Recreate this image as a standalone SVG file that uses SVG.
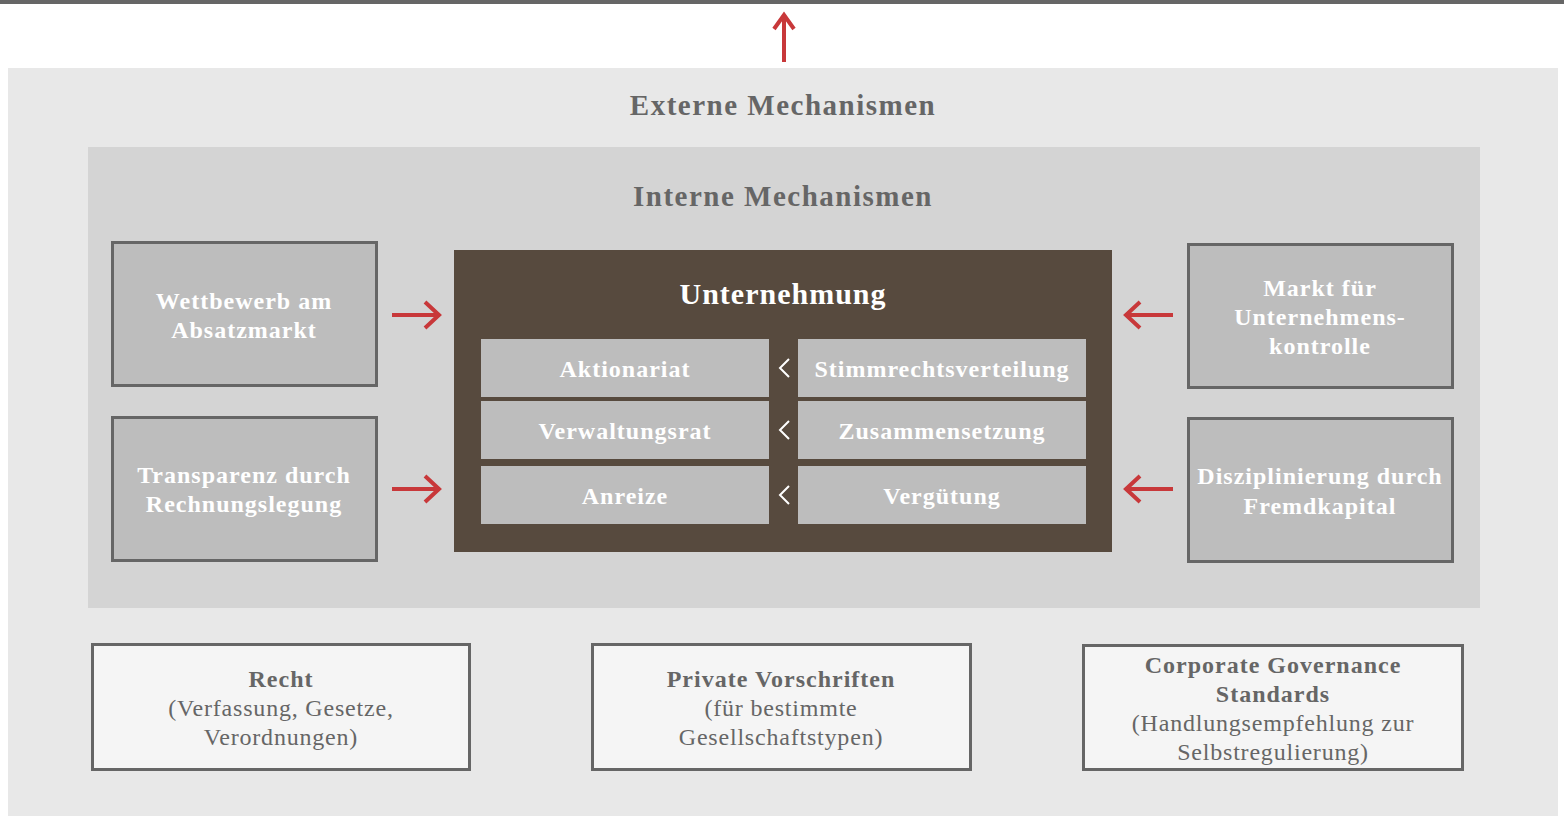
<svg xmlns="http://www.w3.org/2000/svg" width="1564" height="816" viewBox="0 0 1564 816">
<defs>
<style>
text{font-family:"Liberation Serif","DejaVu Serif",serif;text-anchor:middle}
.h{font-size:29px;font-weight:bold;fill:#666;letter-spacing:1.5px}
.box{fill:#bdbdbd;stroke:#666;stroke-width:3}
.wb{font-size:24px;font-weight:bold;fill:#fff;letter-spacing:1px}
.cell{fill:#bdbdbd}
.ct{font-size:24px;font-weight:bold;fill:#fff;letter-spacing:1px}
.bot{fill:#f5f5f5;stroke:#666;stroke-width:3}
.bt{font-size:24px;font-weight:bold;fill:#666;letter-spacing:1px}
.bs{font-size:24px;fill:#666;letter-spacing:0.8px}
.arr{fill:none;stroke:#c8383a;stroke-width:4}
.chev{fill:none;stroke:#fff;stroke-width:2}
</style>
</defs>
<rect x="0" y="0" width="1564" height="4" fill="#666"/>
<rect x="8" y="68" width="1550" height="748" fill="#e8e8e8"/>
<text class="h" x="783" y="115">Externe Mechanismen</text>
<rect x="88" y="147" width="1392" height="461" fill="#d4d4d4"/>
<text class="h" x="783" y="206">Interne Mechanismen</text>

<g id="wettbewerb">
<rect class="box" x="112.5" y="242.5" width="264" height="143"/>
<text class="wb" x="244" y="309">Wettbewerb am</text>
<text class="wb" x="244" y="338">Absatzmarkt</text>
</g>
<g id="transparenz">
<rect class="box" x="112.5" y="417.5" width="264" height="143"/>
<text class="wb" x="244" y="483">Transparenz durch</text>
<text class="wb" x="244" y="512">Rechnungslegung</text>
</g>
<g id="markt">
<rect class="box" x="1188.5" y="244.5" width="264" height="143"/>
<text class="wb" x="1320" y="296">Markt für</text>
<text class="wb" x="1320" y="325">Unternehmens-</text>
<text class="wb" x="1320" y="354">kontrolle</text>
</g>
<g id="disziplinierung">
<rect class="box" x="1188.5" y="418.5" width="264" height="143"/>
<text class="wb" x="1320" y="484">Disziplinierung durch</text>
<text class="wb" x="1320" y="514">Fremdkapital</text>
</g>

<g id="unternehmung">
<rect x="454" y="250" width="658" height="302" fill="#574a3e"/>
<text x="783" y="304" style="font-size:30px;font-weight:bold;fill:#fff;letter-spacing:1px">Unternehmung</text>
<g id="aktionariat"><rect class="cell" x="481" y="339" width="288" height="58"/><text class="ct" x="625" y="377">Aktionariat</text></g>
<g id="stimmrecht"><rect class="cell" x="798" y="339" width="288" height="58"/><text class="ct" x="942" y="377">Stimmrechtsverteilung</text></g>
<g id="verwaltungsrat"><rect class="cell" x="481" y="401" width="288" height="58"/><text class="ct" x="625" y="439">Verwaltungsrat</text></g>
<g id="zusammensetzung"><rect class="cell" x="798" y="401" width="288" height="58"/><text class="ct" x="942" y="439">Zusammensetzung</text></g>
<g id="anreize"><rect class="cell" x="481" y="466" width="288" height="58"/><text class="ct" x="625" y="504">Anreize</text></g>
<g id="verguetung"><rect class="cell" x="798" y="466" width="288" height="58"/><text class="ct" x="942" y="504">Vergütung</text></g>
</g>

<g id="recht">
<rect class="bot" x="92.5" y="644.5" width="377" height="125"/>
<text class="bt" x="281" y="687">Recht</text>
<text class="bs" x="281" y="716">(Verfassung, Gesetze,</text>
<text class="bs" x="281" y="745">Verordnungen)</text>
</g>
<g id="private">
<rect class="bot" x="592.5" y="644.5" width="378" height="125"/>
<text class="bt" x="781" y="687">Private Vorschriften</text>
<text class="bs" x="781" y="716">(für bestimmte</text>
<text class="bs" x="781" y="745">Gesellschaftstypen)</text>
</g>
<g id="cgs">
<rect class="bot" x="1083.5" y="645.5" width="379" height="124"/>
<text class="bt" x="1273" y="673">Corporate Governance</text>
<text class="bt" x="1273" y="702">Standards</text>
<text class="bs" x="1273" y="731">(Handlungsempfehlung zur</text>
<text class="bs" x="1273" y="760">Selbstregulierung)</text>
</g>

<g id="connectors">
<path class="arr" d="M784 62V15M774 29L784 15L794 29"/>
<path class="arr" d="M392 315H439M425 302L439 315L425 328"/>
<path class="arr" d="M392 489H439M425 476L439 489L425 502"/>
<path class="arr" d="M1173 315H1126M1140 302L1126 315L1140 328"/>
<path class="arr" d="M1173 489H1126M1140 476L1126 489L1140 502"/>
<path class="chev" d="M789 359L780 368L789 377"/>
<path class="chev" d="M789 421L780 430L789 439"/>
<path class="chev" d="M789 486L780 495L789 504"/>
</g>
</svg>
